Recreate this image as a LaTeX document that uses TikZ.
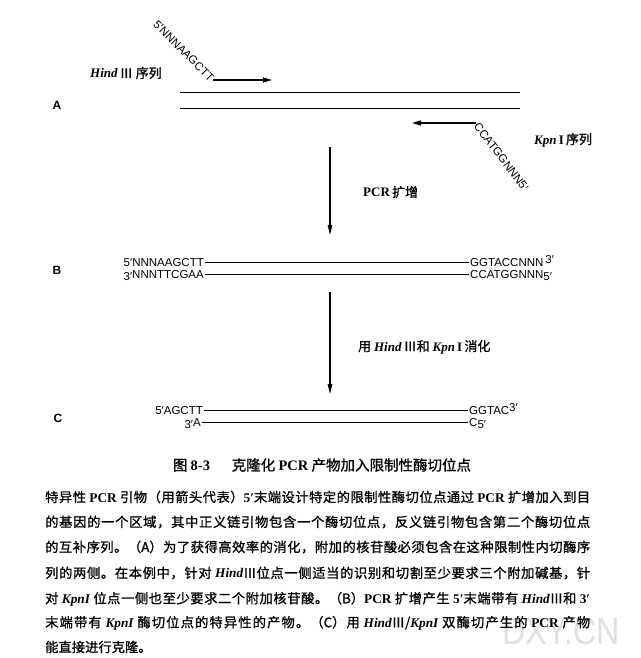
\documentclass[tikz,border=0pt]{standalone}
\usepackage{fontspec}
\setmainfont{Liberation Serif}
\newfontfamily\seqfont{Liberation Sans}
\newfontfamily\cjk{Noto Sans CJK SC}
\newfontfamily\cjkb[FakeBold=1]{Noto Sans CJK SC}
\usetikzlibrary{arrows.meta}

\newcommand{\la}[1]{{\rmfamily\bfseries #1}}
\newcommand{\enz}[1]{{\rmfamily\bfseries\itshape #1}}

% stretchable glue between Chinese characters, for the justified lines
\newcount\cjkcode
\newXeTeXintercharclass\cjkclass
\newcommand{\cjkrange}[2]{\cjkcode=#1\relax
  \loop\XeTeXcharclass\cjkcode=\cjkclass\relax\advance\cjkcode by 1\relax\ifnum\cjkcode<#2\relax\repeat}
\cjkrange{"4E00}{"A000}
\cjkrange{"3000}{"3040}
\cjkrange{"FF00}{"FFF0}
\XeTeXinterchartoks\cjkclass\cjkclass={\hskip0pt plus 2pt\relax}
\XeTeXinterchartokenstate=1

\begin{document}
\begin{tikzpicture}[x=1pt,y=-1pt,
		seq/.style={font=\seqfont\fontsize{11.5}{12}\selectfont, inner sep=1pt, text height=8.2pt, text depth=0pt},
		rowlabel/.style={font=\seqfont\bfseries\fontsize{12}{14}\selectfont},
		note/.style={font=\cjkb\fontsize{13}{15}\selectfont, anchor=west, inner sep=0pt},
		strand/.style={line width=0.9pt},
		primer/.style={-{Triangle[length=9pt,width=5pt]}, line width=1.3pt},
		flow/.style={-{Triangle[length=10pt,width=4.5pt]}, line width=1.1pt},
		textline/.style={anchor=west, inner sep=0pt, font=\cjkb\fontsize{13.3}{15}\selectfont}
		]
		
		\fill[white] (0,0) rectangle (640,658);
		\useasboundingbox (0,0) rectangle (640,658);
		\node[font=\seqfont\fontsize{38}{40}\selectfont, text=black!12, xscale=0.85] (mark) at (561,631) {DXY.CN};
		
		% A: template with the two primers
		\node[rowlabel] (labA) at (57,105) {A};
		\coordinate (a1l) at (180,92);
		\coordinate (a1r) at (520,92);
		\coordinate (a2l) at (180,108);
		\coordinate (a2r) at (520,108);
		\draw[strand] (a1l) -- (a1r);
		\draw[strand] (a2l) -- (a2r);
		
		\node[seq, rotate=-45, anchor=east] (fwdprimer) at (213,80) {5′NNNAAGCTT};
		\coordinate (fwdtip) at (272,80);
		\draw[primer] (fwdprimer.east) -- (fwdtip);
		\node[note] (hindlabel) at (90,73) {\enz{Hind}\,Ⅲ\ 序列};
		
		\node[seq, rotate=-53, anchor=west] (revprimer) at (476,123) {CCATGGNNN5′};
		\coordinate (revtip) at (412,123);
		\draw[primer] (revprimer.west) -- (revtip);
		\node[note] (kpnlabel) at (534,140) {\enz{Kpn}\,\la{I}\,序列};
		
		% step 1
		\coordinate (pcrtop) at (330,147);
		\coordinate (pcrbot) at (330,235);
		\draw[flow] (pcrtop) -- (pcrbot);
		\node[note] (pcrlabel) at (363,192) {\la{PCR}\,扩增};
		
		% B: PCR product
		\node[rowlabel] (labB) at (57,270) {B};
		\node[seq, anchor=east] (b5) at (205,262) {5′NNNAAGCTT};
		\node[seq, anchor=east] (b3) at (205,274) {\raisebox{-2.5pt}{3′}NNNTTCGAA};
		\node[seq, anchor=west] (b3r) at (469,262) {GGTACCNNN\,\raisebox{3pt}{3′}};
		\node[seq, anchor=west] (b5r) at (469,274) {CCATGGNNN\raisebox{-2.5pt}{5′}};
		\draw[strand] (b5.east) -- (b3r.west);
		\draw[strand] (b3.east) -- (b5r.west);
		
		% step 2
		\coordinate (cuttop) at (330,292);
		\coordinate (cutbot) at (330,394);
		\draw[flow] (cuttop) -- (cutbot);
		\node[note] (cutlabel) at (358,347) {用 \enz{Hind}\,Ⅲ和 \enz{Kpn}\,\la{I}\,消化};
		
		% C: cut product
		\node[rowlabel] (labC) at (58,418) {C};
		\node[seq, anchor=east] (c5) at (204,410) {5′AGCTT};
		\node[seq, anchor=east] (c3) at (202,422) {\raisebox{-2.5pt}{3′}A};
		\node[seq, anchor=west] (c3r) at (468,410) {GGTAC\raisebox{3pt}{3′}};
		\node[seq, anchor=west] (c5r) at (468,422) {C\raisebox{-2.5pt}{5′}};
		\draw[strand] (c5.east) -- (c3r.west);
		\draw[strand] (c3.east) -- (c5r.west);
		
		% caption
		\node[font=\cjkb\fontsize{14.5}{16}\selectfont] (caption) at (322,465) {图 \la{8-3}\hspace{1.5em}克隆化 \la{PCR} 产物加入限制性酶切位点};
		\node[textline] (par1) at (45,497) {\makebox[545pt][s]{特异性 \la{PCR} 引物（用箭头代表）\la{5′}末端设计特定的限制性酶切位点通过 \la{PCR} 扩增加入到目}};
		\node[textline] (par2) at (45,522) {\makebox[545pt][s]{的基因的一个区域，其中正义链引物包含一个酶切位点，反义链引物包含第二个酶切位点}};
		\node[textline] (par3) at (45,547) {\makebox[545pt][s]{的互补序列。（A）为了获得高效率的消化，附加的核苷酸必须包含在这种限制性内切酶序}};
		\node[textline] (par4) at (45,573) {\makebox[545pt][s]{列的两侧。在本例中，针对 \enz{Hind}Ⅲ位点一侧适当的识别和切割至少要求三个附加碱基，针}};
		\node[textline] (par5) at (45,599) {\makebox[545pt][s]{对 \enz{KpnI} 位点一侧也至少要求二个附加核苷酸。（B）\la{PCR} 扩增产生 \la{5′}末端带有 \enz{Hind}Ⅲ和 \la{3′}}};
		\node[textline] (par6) at (45,623) {\makebox[545pt][s]{末端带有 \enz{KpnI} 酶切位点的特异性的产物。（C）用 \enz{Hind}Ⅲ/\enz{KpnI} 双酶切产生的 \la{PCR} 产物}};
		\node[textline] (par7) at (45,647) {能直接进行克隆。};
		
	\end{tikzpicture}
\end{document}
